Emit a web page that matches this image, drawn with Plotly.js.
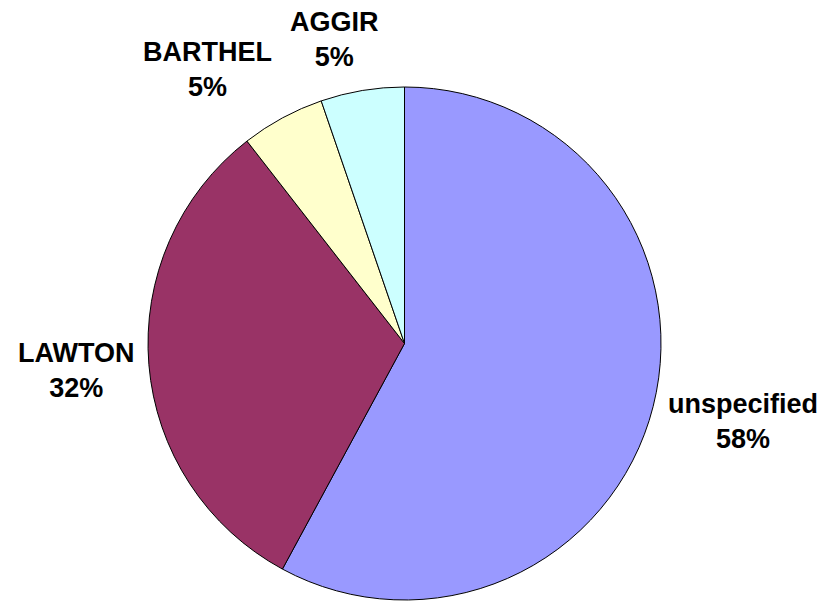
<!DOCTYPE html>
<html>
<head>
<meta charset="utf-8">
<script src="https://cdn.plot.ly/plotly-3.0.1.min.js"></script>
<style>html,body{margin:0;padding:0;background:#fff;}#chart{width:838px;height:601px;}</style>
</head>
<body>
<div id="chart"></div>
<script>
const labels = ["unspecified", "LAWTON", "BARTHEL", "AGGIR"];
const counts = [11, 6, 1, 1];
const colors = ["#9999FF", "#993366", "#FFFFCC", "#CCFFFF"];

const W = 838, H = 601;
// label block centres in pixels (layout only)
const labelPos = [[743, 421], [76, 370], [207.5, 69.5], [334, 39.5]];

const total = counts.reduce((a, b) => a + b, 0);
const font = {family: "Liberation Sans, Arial, sans-serif", size: 27, color: "#000000"};

const trace = {
  type: "pie",
  labels: labels,
  values: counts,
  sort: false,
  direction: "clockwise",
  rotation: 0,
  domain: {x: [148 / W, 661 / W], y: [1 / H, 514 / H]},
  marker: {colors: colors, line: {color: "#000000", width: 1}},
  textposition: "none",
  showlegend: false,
  hoverinfo: "none"
};

const annotations = labels.map((lab, i) => ({
  xref: "paper", yref: "paper",
  x: labelPos[i][0] / W, y: 1 - labelPos[i][1] / H,
  xanchor: "center", yanchor: "middle", align: "center",
  showarrow: false,
  text: "<b>" + lab + "<br>" + Math.round(counts[i] / total * 100) + "%</b>",
  font: font
}));

const layout = {
  width: W,
  height: H,
  margin: {l: 0, r: 0, t: 0, b: 0},
  paper_bgcolor: "#ffffff",
  plot_bgcolor: "#ffffff",
  showlegend: false,
  annotations: annotations
};

Plotly.newPlot("chart", [trace], layout, {displayModeBar: false, staticPlot: true});
</script>
</body>
</html>
